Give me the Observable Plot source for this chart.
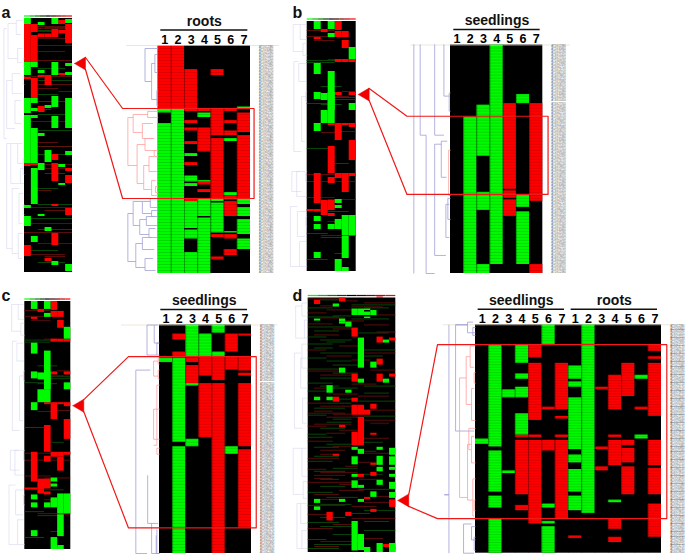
<!DOCTYPE html>
<html><head><meta charset="utf-8">
<script src="https://cdn.jsdelivr.net/npm/d3@7"></script>
<script src="https://cdn.jsdelivr.net/npm/@observablehq/plot@0.6"></script>
<style>
html,body{margin:0;padding:0;background:#fff}
#page{position:relative;width:685px;height:554px;overflow:hidden}
#page svg{position:absolute;left:0;top:0;background:transparent}
</style></head><body><div id="page"></div>
<script>
// ---- detail heatmap runs: [column, first row, end row] ----
const aDetailRed=[[1,0,21],[2,0,21],[3,8,22],[4,21,22],[5,8,10],[5,21,30],[5,31,51],[6,21,22],[6,25,26],[6,28.5,30],[7,22.5,29],[7,30,51],[3,25,26],[3,27.5,28.5],[3,32,33],[3,39,40],[3,51,52],[4,27.5,35.5],[4,45.5,46.5],[4,48,49],[5,63,64],[5,70.5,71.5],[6,50,51.5],[6,52,57],[6,63,64.5],[6,68,70]];
const aDetailGreen=[[1,21,22.5],[1,26,76],[2,21,76],[3,36,37],[3,43.5,45.5],[3,46,47],[3,52,61],[3,61.5,64.5],[3,69,76],[4,22.5,24],[4,45,45.5],[4,51,57],[4,57.5,76],[5,51,52],[5,52.5,62.5],[6,31,32],[6,49,50],[6,62,62.5],[7,20.5,21],[7,51,53],[7,54,57],[7,58,63],[7,64.5,68]];
const bDetailRed=[[5,19.5,48],[5,48.5,51],[5,51.5,57],[7,19.5,52],[7,73,76]];
const bDetailGreen=[[2,24,76],[3,20,37],[3,49,55],[3,73,76],[4,0,73],[6,16.5,19.5],[6,50,54],[6,55.5,73]];
const cDetailRed=[[2,3,5],[2,9,10.5],[3,11,12.5],[3,13.5,19.5],[4,10.5,17],[4,19.5,37.5],[5,10.5,18.5],[5,19.5,76],[6,3,9],[6,10.5,15],[7,3,3.7],[7,10.5,15.3],[7,16,17],[7,19.5,40.5],[7,41.5,67.5]];
const cDetailGreen=[[1,11,12.5],[2,11,39],[2,40.5,76],[3,0,10.5],[3,19.5,20.3],[3,38,40.5],[4,3,10.5],[5,0,2.7],[5,9,10.5],[6,40.5,43]];
const dDetailRed=[[4,41.5,42.5],[4,43.5,64],[4,68,70],[5,7.5,12.5],[5,14.5,36],[5,41.5,42.5],[5,43.5,75],[6,31,32],[6,43.5,47.5],[7,14.5,32],[7,34.5,35.5],[7,41.5,42.5],[7,43.5,73],[8,79.5,80.5],[10,23.5,24.5],[10,46,47],[10,53.5,55],[11,19,32],[11,41.5,42.5],[11,43.5,53],[11,73,77],[11,80,82],[12,14.5,27],[12,43.5,45.5],[12,46.5,52],[12,53.5,64],[14,7.5,10],[14,12,13],[14,14.5,34.5],[14,43.5,53],[14,54,64],[14,67.5,80],[13,31,32]];
const dDetailGreen=[[1,43,45],[2,7.5,46],[2,47.5,63],[2,64.5,69],[2,73,86],[3,24.5,27.5],[3,55,56],[4,7.5,14.5],[4,18.5,20.5],[4,23.5,27.5],[4,33.5,41.5],[6,0,7.5],[6,67.5,69],[6,74,75],[6,76,86],[8,15.5,20.5],[8,21.5,23.5],[8,27.5,47],[8,49,52],[8,54.5,63],[8,64.5,70],[9,0,71],[11,66,67],[13,19,20.5],[13,41.5,43]];

// ---- overview heatmap runs ----
const aOverRed=[[1,6,44],[2,6,14],[2,17,44],[3,16,19],[4,16,19],[5,11,19],[6,2,6],[6,12,15],[7,6,25],[6,55,57],[2,60,80],[4,57,67],[3,57,59],[1,59,61],[3,88,94],[5,136,142],[1,145,148],[2,144,147],[5,145,163],[7,150,153],[7,157,165],[5,186,188],[7,190,197],[5,215,227],[1,227,238],[4,240,243]];
const aOverGreen=[[1,0,6],[5,0,6],[7,1,5],[3,4,7],[1,44,57],[2,44,49],[3,52,55],[5,44,57],[7,45,48],[7,54,57],[1,80,95],[2,80,85],[2,90,93],[4,87,90],[5,78,89],[7,80,110],[1,97,110],[2,97,100],[5,98,110],[1,110,145],[2,110,145],[3,115,118],[4,132,144],[7,133,137],[3,145,152],[6,146,149],[2,150,162],[6,165,167],[2,162,186],[1,187,190],[1,198,208],[3,196,198],[4,209,213],[2,218,224],[5,243,247],[7,246,253]];
const aOverDimRed=[[3,7,8],[4,7,9],[3,6,10],[3,5,13],[3,6,15],[3,7,20],[3,7,27],[3,6,33],[3,7,42],[1,7,58],[3,7,66],[3,5,70],[6,7,73],[2,7,103],[3,5,124],[3,7,128],[4,6,150],[1,7,146],[3,4,172],[1,7,189],[4,7,192],[2,7,205],[1,7,214],[3,7,225],[2,6,236],[4,6,238]];
const aOverDimGreen=[[3,4,12],[3,6,50],[3,7,62],[3,5,76],[3,6,83],[3,4,91],[3,6,96],[3,7,112],[3,7,128],[3,6,136],[4,6,155],[3,5,170],[3,7,186],[2,7,200],[3,7,211],[2,5,232],[3,6,244]];
const bcOverRed=[[5,0,9],[3,8,11],[5,10,16],[6,10,16],[2,16,18],[6,19,27],[5,38,41],[6,38,41],[7,38,41],[5,71,74],[7,71,74],[4,102,104],[5,102,119],[6,102,104],[7,102,106],[7,119,139],[4,125,152],[2,152,182],[5,152,157],[6,152,157],[7,152,155],[4,156,162],[6,157,171],[3,179,189],[4,179,189],[1,188,190],[2,188,190],[3,188,190],[3,190,194],[4,192,195],[5,200,202],[6,214,215],[7,214,215]];
const bcOverGreen=[[2,0,8],[4,0,8],[4,12,16],[7,26,38],[2,42,53],[4,50,89],[2,71,78],[3,72,79],[4,71,89],[7,82,89],[3,89,102],[4,89,102],[2,102,110],[5,178,182],[5,184,187],[2,195,200],[2,203,208],[4,203,208],[5,198,208],[6,194,214],[7,194,214],[6,215,237],[2,231,237],[5,238,250],[6,246,250]];
const bcOverDimRed=[[1,4,9],[1,3,15],[2,4,19],[4,5,38],[5,6,75],[6,7,70],[1,7,153],[1,7,160],[4,7,200],[3,5,214],[1,4,176],[5,7,110],[3,5,111],[4,7,178]];
const bcOverDimGreen=[[1,5,39],[1,4,41],[3,5,65],[1,3,82],[5,7,76],[5,7,78],[1,3,127],[5,6,142],[2,6,190],[1,3,212],[1,3,238],[3,6,216],[5,6,232],[3,5,83]];
const dOverRed=[[2,2.5,6.5],[12,-1,0.5],[6,0,4],[8,30,39],[12,39,45],[14,40,43],[12,61,67],[8,76,84],[12,76,84],[14,76,79],[5,99,104],[8,100,104],[11,106,111],[8,107,117],[9,107,117],[10,112,117],[9,119,147.5],[8,134,147.5],[6,127,129.5],[11,135,137],[5,156,158],[11,165,167],[11,174,178],[9,176,179],[14,201.5,209],[4,214,222.5],[7,214,218],[10,199,201],[11,211,214],[13,246,249],[14,249,251]];
const dOverGreen=[[5,6,9],[8,11,17.5],[9,11,17.5],[10,11,12.5],[10,14,17.5],[11,12.5,17.5],[10,19,20.5],[6,21,24],[7,24,29],[6,24,26],[2,21,23],[9,40,70],[13,42,45],[11,64,70],[6,70,75],[9,81,85],[13,81,85],[4,87.5,95],[7,92,95],[2,99,102.5],[4,99,102.5],[8,149,152],[9,151,156],[12,149,152],[14,150,157],[8,158.5,166.5],[12,158,167],[14,158.5,167],[12,169,173.5],[14,169,172],[8,176,179],[14,176,179],[8,182.5,190],[9,187,190],[12,182,187],[14,184,191],[11,193.5,199],[14,194,200],[2,201,205],[2,208.5,212],[6,201,204],[9,201,204],[8,223,252.5],[9,236,252],[10,249,254],[12,245,254],[14,245,254]];
const dOverDimRed=[[1,5,1],[6,8,3],[10,14,5],[3,5,8],[8,12,9],[4,7,12],[1,3,15],[11,14,17],[3,6,20],[7,9,23],[1,4,26],[10,13,27],[5,8,31],[12,14,34],[2,5,37],[6,9,48],[1,3,52],[10,14,55],[4,7,58],[8,10,62],[1,5,73],[11,14,72],[3,7,77],[8,11,86],[2,4,90],[5,8,96],[9,13,98],[1,3,105],[3,7,108],[8,14,112],[1,6,115],[4,8,119],[10,14,122],[2,7,126],[6,8,132],[10,13,140],[1,4,143],[5,7,148],[3,6,152],[9,13,155],[1,5,160],[7,8,168],[1,3,171],[3,8,174],[2,6,177],[9,12,181],[1,7,184],[6,9,192],[2,5,196],[10,13,204],[1,6,207],[5,8,226],[8,14,220],[1,4,230],[3,7,243],[2,5,248],[2,4,113],[5,7,116],[11,13,125],[1,3,128],[4,6,135],[3,5,156],[9,11,164],[2,4,180],[6,8,186],[12,14,198],[3,6,201],[8,11,208],[1,4,216],[10,12,240]];
const dOverDimGreen=[[2,6,2],[8,14,7],[1,4,10],[10,13,10],[5,7,18],[1,5,19],[8,13,21],[1,7,29],[2,5,33],[9,13,35],[3,7,42],[1,4,46],[3,8,55],[10,12,58],[1,3,60],[4,7,63],[5,8,67],[1,5,71],[3,7,80],[10,14,88],[1,4,85],[5,8,90],[1,3,93],[6,8,101],[9,14,103],[2,6,110],[10,14,118],[4,7,124],[3,6,130],[1,3,136],[4,7,146],[2,5,149],[9,11,153],[1,4,163],[5,8,170],[2,6,173],[3,5,181],[9,13,191],[1,4,194],[4,8,199],[3,7,206],[10,14,212],[3,6,219],[1,5,224],[10,13,223],[3,8,228],[10,14,232],[2,7,246],[1,5,250],[1,3,39],[4,6,44],[2,4,50],[10,14,52],[5,8,75],[3,5,88],[10,13,95],[4,7,105],[1,3,117],[5,7,121],[1,4,139],[10,12,144],[2,5,158],[9,12,176],[3,6,188],[8,10,215],[5,7,236],[1,3,241]];

// ---- dendrogram brackets: [depth, row a, row b, child depth a, child depth b] ----
const aDetailBlue=[[-1,1,12,0,-.5],[-.5,6,18,-.25,-.1],[-.25,3,9,-.1,-.05],[-.1,15,20,0,0],[-2.3,56,72,-1.9,-1.7],[-1.9,52,60,-1.2,-1.4],[-1.2,52,56,-.6,-.5],[-.6,51,54,0,0],[-.5,55,57,0,0],[-1.4,58,63,-.9,-.7],[-.9,57,60,-.3,0],[-.7,61,64,-.2,0],[-1.7,66,74,-1.2,-1],[-1.2,64,68,-.5,-.3],[-1,71,75,-.4,-.2]];
const aDetailPink=[[-2.3,24,40,-1.9,-1.6],[-1.9,23,29,-.8,-1.2],[-.8,22,24,0,0],[-1.2,26,31,-.4,-.3],[-1.6,33,46,-1,-1.1],[-1,31,35,-.4,-.2],[-1.1,40,48,-.7,-.5],[-.7,37,42,-.3,-.1],[-.5,45,50,-.2,0],[-.3,35,37,0,0],[-.2,47,49,0,0]];
const bDetailBlue=[[-2.78,-.2,76,-2.78,-2.78],[-2.3,-.2,30,-2.3,-1.85],[-1.85,30,76,-1.85,-1.2],[-1.2,-.2,30,-1.2,-.5],[-1.2,33,70,-.7,-.35],[-.5,-.2,17,-.5,-.1],[-.7,32,44,-.25,-.3],[-.2,51,58,0,0],[-.35,53,64,-.1,-.1],[-.1,16,22,0,0]];
const bDetailPink=[[-.14,35,50,0,0]];
const cDetailBlue=[[-.95,0,10,-.4,-.2],[-.4,0,6,-.1,-.05],[-.2,6,10,0,0],[-1.8,15,76,-1.8,-.95],[-1.8,15,15,-1.8,-.7],[-.9,50,66,-.9,-.1],[-.6,66,76,-.6,-.1],[-.2,68,76,-.2,0],[-.25,70,76,-.25,0]];
const cDetailPink=[[-.45,12,17,-.1,-.1],[-.1,11,13,0,0],[-.1,15,18,0,0],[-.2,20,40,0,-.45],[-.45,28,38,0,0],[-.2,41,43,0,0]];
const dDetailBlue=[[-2,0,86,-2,-2],[-1.5,0,40,-1.5,-.1],[-1.5,0,0,-.6,-.6],[-.6,-1,3,-.2,0],[-.2,1,4,0,0],[-.9,75,86,-.3,-.1],[-.3,76,81,0,0],[-.1,80,85,0,0],[-2,64,64,-2.35,-2.35]];
const dDetailPink=[[-1.2,20,65,-.7,-.6],[-.7,12,30,-.4,-.3],[-.4,8,16,0,-.1],[-.3,24,36,-.1,0],[-.1,18,22,0,0],[-.6,45,66,-.3,-.2],[-.3,42,52,-.1,0],[-.2,58,72,0,-.1],[-.1,66,70,0,0],[-.5,39,47,0,-.3]];
const aOverTree=[[-3,10,120,-2.6,-2.6],[-2.4,5,40,-1.2,-1],[-1.2,2,16,-.3,-.5],[-1,30,44,-.2,-.4],[-2.6,62,110,-1.8,-1.4],[-1.8,55,75,-.6,-.3],[-1.4,82,105,-.5,-.4],[-2.6,125,230,-2,-1.8],[-2,125,165,-1,-.6],[-1,125,145,-.3,-.2],[-.6,150,165,-.2,-.1],[-1.8,170,235,-.8,-.9],[-.8,175,205,-.2,-.3],[-.9,215,240,-.2,-.3],[-.2,40,48,0,0],[-.2,58,66,0,0],[-.2,140,156,0,0],[-.2,186,196,0,0]];
const bcOverTree=[[-2,3,30,-1,-.6],[-1,3,18,-.2,-.1],[-.6,22,34,-.1,0],[-1.9,40,130,-1.2,-.8],[-1.2,42,60,-.2,-.1],[-.8,75,120,-.2,-.3],[-2.2,150,170,-1,-.8],[-1.5,150,175,-.3,-.2],[-2.4,185,245,-1.4,-1.1],[-1.4,190,215,-.2,-.3],[-1.1,220,245,-.2,0],[-.2,70,80,0,0],[-.2,150,160,0,0],[-.2,195,205,0,0]];
const dOverTree=[[-2,8,40,-1,-.6],[-1,5,18,-.2,-.1],[-.6,22,40,-.2,-.1],[-1,46,70,-.3,-.1],[-2.2,55,130,-1.2,-.9],[-1.2,60,90,-.4,-.2],[-.9,100,125,-.2,-.3],[-2.4,150,196,-1,-.8],[-1,150,178,-.3,-.2],[-.8,183,200,-.2,-.1],[-1.8,205,250,-1.2,-1],[-1.2,205,225,-.3,-.1],[-1,232,250,-.2,-.1]];

// ---- labels ----
const columnLabels=["1","2","3","4","5","6","7"];
const geneIds=["AT1G12380","AT2G30860","AT5G41090","AT3G15450","AT4G27310","AT1G69530","AT2G47890","AT3G62720","AT5G13170","AT1G80130","AT4G19810","AT3G04120","AT2G15890","AT5G58070","AT1G31330"];
const colorbarStops=["#00ff00","#00c000","#008000","#004000","#000000","#400000","#800000","#c00000","#ff0000"];

const RED="#ff0000",GREEN="#00fa00",DIMR="#701010",DIMG="#0c560c",BLUE="#a0a0d8",TREE="#cfcfea",PINK="#ffa0a0";
const page=document.getElementById("page");
const base={width:685,height:554,style:{background:"transparent",overflow:"visible"}};

function bracketLinks(list,color,width){
  const segs=list.flatMap(([d,a,b,ca,cb])=>[[d,a,d,b],[d,a,ca,a],[d,b,cb,b]]);
  return Plot.link(segs,{x1:s=>s[0],y1:s=>s[1],x2:s=>s[2],y2:s=>s[3],stroke:color,strokeWidth:width});
}
function runs(list,fill){
  return Plot.rect(list,{x1:d=>d[0]-1,x2:d=>d[0],y1:d=>d[1],y2:d=>d[2],fill});
}
function strips(list,fill){
  return Plot.rect(list,{x1:d=>d[0]-1,x2:d=>d[1],y1:d=>d[2],y2:d=>d[2]+.8,fill});
}
function heat(o){
  const [l,r,t,b]=o.box, n=o.cols, rows=o.rows;
  const marks=[Plot.rect([0],{x1:0,x2:n,y1:0,y2:rows,fill:"#000"})];
  if(o.dimG) marks.push(strips(o.dimG,DIMG));
  if(o.dimR) marks.push(strips(o.dimR,DIMR));
  marks.push(runs(o.red,RED),runs(o.green,GREEN));
  if(o.detail){
    marks.push(Plot.ruleY(d3.range(1,rows),{x1:0,x2:n,stroke:"#000",strokeOpacity:.25,strokeWidth:.5}));
    marks.push(Plot.ruleX(d3.range(1,n),{y1:0,y2:rows,stroke:"#000",strokeOpacity:.5,strokeWidth:.6}));
    marks.push(Plot.ruleY([0],{x1:o.rule[0],x2:o.rule[1],stroke:"#e6dccb",strokeWidth:.7}));
    const ids=d3.range(rows).map(i=>({i,t:geneIds[i%geneIds.length]}));
    marks.push(Plot.text(ids,{x:()=>o.labelAt,y:d=>d.i+.5,text:"t",fontSize:2.7,fill:"#555",textAnchor:"start",fontFamily:"Liberation Sans"}));
    const ticks=d3.range(n);
    marks.push(Plot.axisX(ticks.map(i=>i+.5),{anchor:"top",tickSize:0,tickPadding:2,
      tickFormat:d=>columnLabels[Math.floor(d)%7],fontSize:12.5,fontWeight:"bold",fill:"#000",fontFamily:"Liberation Sans",label:null}));
    o.titles.forEach(g=>{
      marks.push(Plot.ruleY([0],{x1:g.from,x2:g.to,dy:-15.5,stroke:"#111",strokeWidth:1.6}));
      marks.push(Plot.text([g.title],{x:()=>(g.from+g.to)/2,y:()=>0,dy:-24,text:d=>d,fontSize:14,fontWeight:"bold",fill:"#111",fontFamily:"Liberation Sans"}));
    });
  } else {
    marks.push(Plot.rect(colorbarStops,{x1:(d,i)=>i*n/colorbarStops.length,x2:(d,i)=>(i+1)*n/colorbarStops.length,y1:()=>-2.6,y2:()=>-1.4,fill:d=>d}));
  }
  if(o.blue) marks.push(bracketLinks(o.blue,o.detail?BLUE:TREE,o.detail?.8:.5));
  if(o.pink) marks.push(bracketLinks(o.pink,PINK,.8));
  const svg=Plot.plot({...base,marginLeft:l,marginRight:685-r,marginTop:t,marginBottom:554-b,
    x:{domain:[0,n],axis:null},y:{domain:[0,rows],reverse:true,axis:null},marks});
  page.appendChild(svg);
  return svg;
}

const A=heat({box:[24,72,18,272],cols:7,rows:254,red:aOverRed,green:aOverGreen,dimR:aOverDimRed,dimG:aOverDimGreen,blue:aOverTree});
const AD=heat({detail:true,box:[157.7,250,45,273],cols:7,rows:76,red:aDetailRed,green:aDetailGreen,blue:aDetailBlue,pink:aDetailPink,labelAt:7.65,rule:[-2.4,9.2],titles:[{title:"roots",from:.2,to:6.8}]});
const B=heat({box:[306.7,355.7,21,271],cols:7,rows:250,red:bcOverRed,green:bcOverGreen,dimR:bcOverDimRed,dimG:bcOverDimGreen,blue:bcOverTree});
const BD=heat({detail:true,box:[450,542.3,44.5,273],cols:7,rows:76,red:bDetailRed,green:bDetailGreen,blue:bDetailBlue,pink:bDetailPink,labelAt:7.65,rule:[-3,9.1],titles:[{title:"seedlings",from:.25,to:6.8}]});
const C=heat({box:[24.3,70.3,301,549],cols:7,rows:250,red:bcOverRed,green:bcOverGreen,dimR:bcOverDimRed,dimG:bcOverDimGreen,blue:bcOverTree});
const CD=heat({detail:true,box:[159,251,324.5,553],cols:7,rows:76,red:cDetailRed,green:cDetailGreen,blue:cDetailBlue,pink:cDetailPink,labelAt:7.65,rule:[-2.9,9],titles:[{title:"seedlings",from:.1,to:6.7}]});
const D=heat({box:[307.7,395.3,297.5,552],cols:14,rows:254,red:dOverRed,green:dOverGreen,dimR:dOverDimRed,dimG:dOverDimGreen,blue:dOverTree});
const DD=heat({detail:true,box:[475,661,324.3,552.7],cols:14,rows:86,red:dDetailRed,green:dDetailGreen,blue:dDetailBlue,pink:dDetailPink,labelAt:14.65,rule:[-2.4,15.7],titles:[{title:"seedlings",from:.2,to:6.7},{title:"roots",from:7.2,to:13.7}]});

// ---- call-outs, placed through the panels' own scales ----
const callouts=[
 {over:A,detail:AD,row:45,rows:[21,51],span:[-2.7,7.27]},
 {over:B,detail:BD,row:73,rows:[23.7,49.7],span:[-3.3,7.4]},
 {over:C,detail:CD,row:105,rows:[10.5,67.5],span:[-2.36,7.36]},
 {over:D,detail:DD,row:202,rows:[7.5,73],span:[-2.86,14.4]}
];
const pathPts=[],triPts=[];
callouts.forEach((c,i)=>{
  const ox=c.over.scale("x"),oy=c.over.scale("y"),dx=c.detail.scale("x"),dy=c.detail.scale("y");
  const edge=ox.apply(ox.domain[1]),tipY=oy.apply(c.row),tip=edge+2,bs=edge+13;
  const L=dx.apply(c.span[0]),R=dx.apply(c.span[1]),T=dy.apply(c.rows[0]),Bt=dy.apply(c.rows[1]);
  [[bs,tipY-6],[L,T],[R,T],[R,Bt],[L,Bt],[bs,tipY+6]].forEach(p=>pathPts.push({id:i,x:p[0],y:p[1]}));
  [[tip,tipY],[bs,tipY-6.5],[bs,tipY+6.5],[tip,tipY]].forEach(p=>triPts.push({id:i,x:p[0],y:p[1]}));
});
const panelLetters=[{t:"a",x:1,y:12},{t:"b",x:292,y:12},{t:"c",x:1,y:295},{t:"d",x:292,y:295}];
page.appendChild(Plot.plot({...base,margin:0,x:{domain:[0,685],axis:null},y:{domain:[0,554],reverse:true,axis:null},marks:[
  Plot.line(pathPts,{x:"x",y:"y",z:"id",stroke:"#f01818",strokeWidth:1.2,curve:"linear"}),
  Plot.line(triPts,{x:"x",y:"y",z:"id",stroke:"#f00000",fill:"#f00000",strokeWidth:.5,curve:"linear"}),
  Plot.text(panelLetters,{x:"x",y:"y",text:"t",textAnchor:"start",fontSize:16,fontWeight:"bold",fill:"#111",fontFamily:"Liberation Sans"})
]}));
</script></body></html>
